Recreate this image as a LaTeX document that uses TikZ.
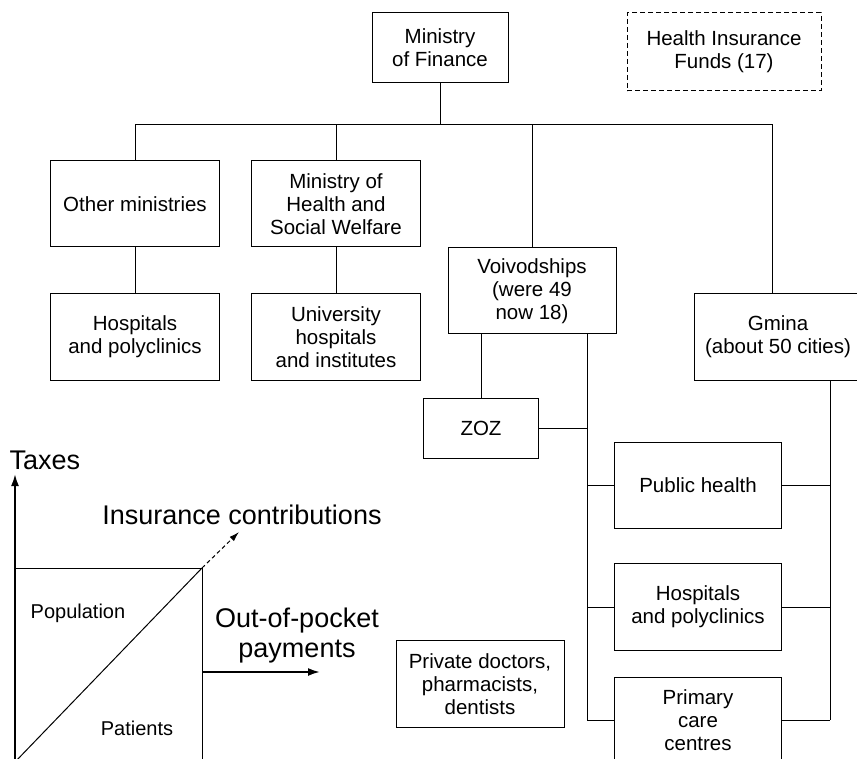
\documentclass[tikz,border=0pt]{standalone}
\usepackage{fontspec}
\setmainfont{Liberation Sans}
\usetikzlibrary{arrows.meta}

\begin{document}
\begin{tikzpicture}[x=1pt, y=-1pt, line width=1pt,
  font=\fontsize{20.5}{23}\selectfont,
  org/.style={draw, rectangle, minimum width=169pt, minimum height=86pt, align=center, inner sep=0pt},
  bigtext/.style={font=\fontsize{27}{30}\selectfont, inner sep=0pt, align=center},
  flow/.style={-{Latex[length=12pt, width=8pt]}, line width=2pt},
  dflow/.style={-{Latex[length=10pt, width=6pt]}, dash pattern=on 4pt off 3pt}]
  \useasboundingbox (0,0) rectangle (857,759);

  \node[org, minimum width=136pt, minimum height=70pt] (mof) at (440,48) {Ministry\\of Finance};
  \node[org, minimum width=194pt, minimum height=78pt, dash pattern=on 5pt off 3pt] (hif) at (724,52) {Health Insurance\\Funds (17)};

  \node[org] (other) at (135,204) {Other ministries};
  \node[org] (moh) at (336,204) {Ministry of\\Health and\\Social Welfare};
  \node[org, minimum width=168pt] (voi) at (532,291) {Voivodships\\(were 49\\now 18)};
  \node[org, minimum width=167pt] (gmina) at (778,337) {Gmina\\(about 50 cities)};
  \node[org] (hosp1) at (135,337) {Hospitals\\and polyclinics};
  \node[org] (uni) at (336,337) {University\\hospitals\\and institutes};
  \node[org, minimum width=115pt, minimum height=60pt] (zoz) at (481,428) {ZOZ};
  \node[org, minimum width=167pt] (ph) at (698,485) {Public health};
  \node[org, minimum width=167pt, minimum height=87pt] (hosp2) at (698,607) {Hospitals\\and polyclinics};
  \node[org, minimum width=167pt] (pcc) at (698,720) {Primary\\care\\centres};
  \node[org, minimum width=168pt, minimum height=87pt] (priv) at (480,684) {Private doctors,\\pharmacists,\\dentists};

  % tree below the ministry
  \coordinate (bus) at (440,125);
  \draw (mof.south) -- (bus);
  \draw (bus) -| (other.north);
  \draw (bus) -| (moh.north);
  \draw (bus) -| (voi.north);
  \draw (bus) -| ([xshift=-6pt]gmina.north);
  \draw (other) -- (hosp1);
  \draw (moh) -- (uni);
  \draw (voi.south -| zoz.north) -- (zoz.north);

  \coordinate (lspine) at (587,720);
  \coordinate (rspine) at (830,720);
  \draw (voi.south -| lspine) -- (lspine);
  \draw (gmina.south -| rspine) -- (rspine);
  \draw (zoz.east) -- (zoz.east -| lspine);
  \foreach \n in {ph, hosp2, pcc} {
    \draw (\n.west) -- (\n.west -| lspine);
    \draw (\n.east) -- (\n.east -| rspine);
  }

  % population square
  \coordinate (sqBL) at (15,762);
  \coordinate (sqTR) at (202,568);
  \draw (sqBL) rectangle (sqTR);
  \draw (sqBL) -- (sqTR);
  \node[font=\fontsize{20}{23}\selectfont] (popl) at (78,613) {Population};
  \node[font=\fontsize{20}{23}\selectfont] (pat) at (137,728) {Patients};

  \node[bigtext, anchor=base west] (taxes) at (9,469) {Taxes};
  \node[bigtext] (ins) at (242,515) {Insurance contributions};
  \node[bigtext] (oop) at (297,636) {Out-of-pocket\\payments};

  \coordinate (taxtip) at (15,474);
  \coordinate (instip) at (239,532);
  \coordinate (ooptip) at (320,672);
  \draw[flow] (sqBL) -- (taxtip);
  \draw[dflow] (sqTR) -- (instip);
  \draw[flow] (sqTR |- ooptip) -- (ooptip);
\end{tikzpicture}
\end{document}
